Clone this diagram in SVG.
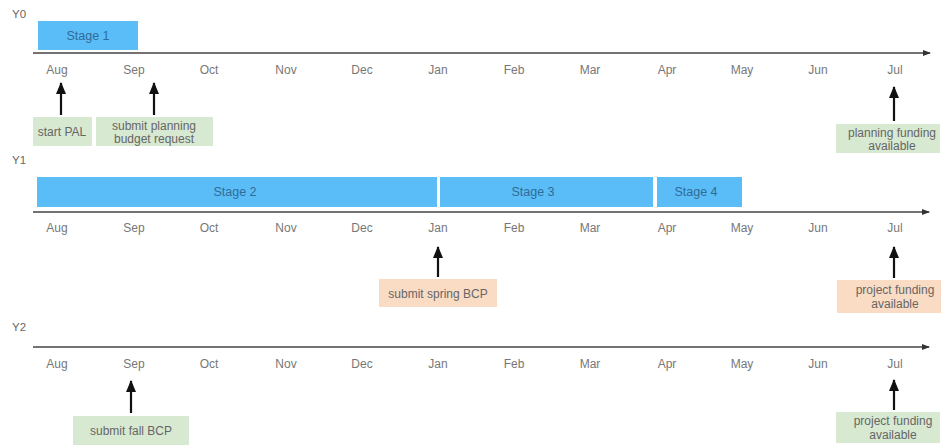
<svg xmlns="http://www.w3.org/2000/svg" width="941" height="446" viewBox="0 0 941 446">
<defs>
  <marker id="axisHead" markerWidth="8" markerHeight="6" refX="7" refY="3" orient="auto" markerUnits="userSpaceOnUse">
    <path d="M0,0 L8,3 L0,6 Z" fill="#333"/>
  </marker>
  <marker id="eventHead" markerWidth="10" markerHeight="12" refX="5" refY="1" orient="0" markerUnits="userSpaceOnUse">
    <path d="M5,0 L10,12 L0,12 Z" fill="#111"/>
  </marker>
</defs>
<style>
  text { font-family: "Liberation Sans", Arial, sans-serif; }
  .year { font-size: 11.5px; fill: #666; }
  .month { font-size: 12px; fill: #777; text-anchor: middle; }
  .stage rect { fill: #5bbdf8; }
  .stage text { font-size: 12.5px; fill: #2f6c96; text-anchor: middle; }
  .axis { stroke: #444; stroke-width: 1.6; fill: none; marker-end: url(#axisHead); }
  .event { stroke: #111; stroke-width: 2.2; fill: none; marker-end: url(#eventHead); }
  .green rect { fill: #d8e9d2; }
  .orange rect { fill: #fadcc4; }
  .note text { font-size: 12px; fill: #666; text-anchor: middle; }
</style>
<rect width="941" height="446" fill="#fff"/>

<!-- year labels -->
<text class="year" x="12" y="18">Y0</text>
<text class="year" x="12" y="164">Y1</text>
<text class="year" x="12" y="331">Y2</text>

<!-- stage bars -->
<g id="stage1" class="stage"><rect x="38" y="21" width="100" height="29"/><text x="88" y="40">Stage 1</text></g>
<g id="stage2" class="stage"><rect x="37" y="177" width="400" height="30"/><text x="235" y="196">Stage 2</text></g>
<g id="stage3" class="stage"><rect x="440" y="177" width="213" height="30"/><text x="533" y="196">Stage 3</text></g>
<g id="stage4" class="stage"><rect x="657" y="177" width="85" height="30"/><text x="696" y="196">Stage 4</text></g>

<!-- month labels -->
<g id="months-y0">
  <text class="month" x="57" y="74">Aug</text><text class="month" x="134" y="74">Sep</text><text class="month" x="209" y="74">Oct</text><text class="month" x="286" y="74">Nov</text><text class="month" x="362" y="74">Dec</text><text class="month" x="438" y="74">Jan</text><text class="month" x="514" y="74">Feb</text><text class="month" x="590" y="74">Mar</text><text class="month" x="667" y="74">Apr</text><text class="month" x="742" y="74">May</text><text class="month" x="818" y="74">Jun</text><text class="month" x="895" y="74">Jul</text>
</g>
<g id="months-y1">
  <text class="month" x="57" y="232">Aug</text><text class="month" x="134" y="232">Sep</text><text class="month" x="209" y="232">Oct</text><text class="month" x="286" y="232">Nov</text><text class="month" x="362" y="232">Dec</text><text class="month" x="438" y="232">Jan</text><text class="month" x="514" y="232">Feb</text><text class="month" x="590" y="232">Mar</text><text class="month" x="667" y="232">Apr</text><text class="month" x="742" y="232">May</text><text class="month" x="818" y="232">Jun</text><text class="month" x="895" y="232">Jul</text>
</g>
<g id="months-y2">
  <text class="month" x="57" y="368">Aug</text><text class="month" x="134" y="368">Sep</text><text class="month" x="209" y="368">Oct</text><text class="month" x="286" y="368">Nov</text><text class="month" x="362" y="368">Dec</text><text class="month" x="438" y="368">Jan</text><text class="month" x="514" y="368">Feb</text><text class="month" x="590" y="368">Mar</text><text class="month" x="667" y="368">Apr</text><text class="month" x="742" y="368">May</text><text class="month" x="818" y="368">Jun</text><text class="month" x="895" y="368">Jul</text>
</g>

<!-- event notes -->
<g id="start-pal" class="note green"><rect x="33" y="117" width="59" height="29"/><text x="62" y="136">start PAL</text></g>
<g id="submit-planning" class="note green"><rect x="96" y="117" width="117" height="29"/><text x="154" y="130">submit planning</text><text x="154" y="143">budget request</text></g>
<g id="planning-funding" class="note green"><rect x="836" y="124" width="104" height="29"/><text x="892" y="137">planning funding</text><text x="892" y="150">available</text></g>
<g id="submit-spring" class="note orange"><rect x="379" y="279" width="118" height="28"/><text x="438" y="298">submit spring BCP</text></g>
<g id="project-funding-y1" class="note orange"><rect x="837" y="280" width="104" height="33"/><text x="895" y="294">project funding</text><text x="895" y="308">available</text></g>
<g id="submit-fall" class="note green"><rect x="73" y="416" width="116" height="29"/><text x="131" y="435">submit fall BCP</text></g>
<g id="project-funding-y2" class="note green"><rect x="836" y="412" width="104" height="31"/><text x="893" y="425">project funding</text><text x="893" y="439">available</text></g>

<!-- connectors: axes and event arrows -->
<g id="connectors">
  <line class="axis" x1="33" y1="53" x2="930" y2="53"/>
  <line class="axis" x1="33" y1="212" x2="929" y2="212"/>
  <line class="axis" x1="33" y1="347" x2="929" y2="347"/>
  <line class="event" x1="61" y1="115" x2="61" y2="83"/>
  <line class="event" x1="154" y1="115" x2="154" y2="83"/>
  <line class="event" x1="894" y1="121" x2="894" y2="87"/>
  <line class="event" x1="438" y1="277" x2="438" y2="247"/>
  <line class="event" x1="894" y1="278" x2="894" y2="247"/>
  <line class="event" x1="131" y1="413" x2="131" y2="381"/>
  <line class="event" x1="894" y1="410" x2="894" y2="380"/>
</g>
</svg>
